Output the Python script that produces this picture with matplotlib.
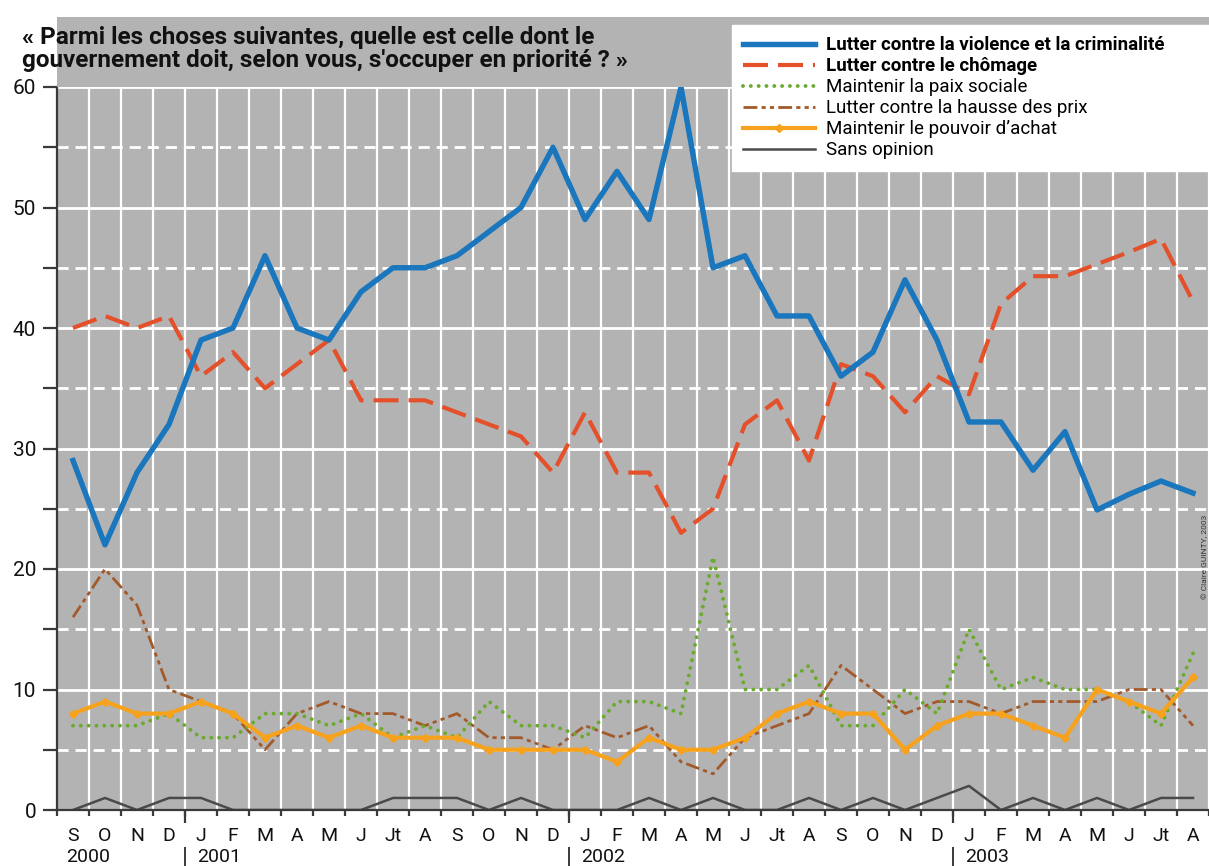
#!/usr/bin/env python
"""Priorités du gouvernement : line chart, Sept. 2000 - Aug. 2003."""

import matplotlib

matplotlib.use("Agg")
import matplotlib.pyplot as plt
from matplotlib.patches import Rectangle

plt.rcParams["font.family"] = ["Roboto", "DejaVu Sans"]

months = [
    "S", "O", "N", "D",
    "J", "F", "M", "A", "M", "J", "Jt", "A", "S", "O", "N", "D",
    "J", "F", "M", "A", "M", "J", "Jt", "A", "S", "O", "N", "D",
    "J", "F", "M", "A", "M", "J", "Jt", "A",
]
years = ["2000", "2001", "2002", "2003"]
year_starts = [0, 4, 16, 28]

violence = [29, 22, 28, 32, 39, 40, 46, 40, 39, 43, 45, 45, 46, 48, 50, 55,
            49, 53, 49, 60, 45, 46, 41, 41, 36, 38, 44, 39, 32.2, 32.2, 28.2, 31.4,
            24.9, 26.2, 27.3, 26.3]
chomage = [40, 41, 40, 41, 36, 38, 35, 37, 39, 34, 34, 34, 33, 32, 31, 28,
           33, 28, 28, 23, 25, 32, 34, 29, 37, 36, 33, 36, 34.5, 42, 44.3, 44.3,
           45.3, 46.3, 47.4, 42.2]
paix = [7, 7, 7, 8, 6, 6, 8, 8, 7, 8, 6, 7, 6, 9, 7, 7,
        6, 9, 9, 8, 21, 10, 10, 12, 7, 7, 10, 8, 15, 10, 11, 10,
        10, 9, 7, 13]
prix = [16, 20, 17, 10, 9, 8, 5, 8, 9, 8, 8, 7, 8, 6, 6, 5,
        7, 6, 7, 4, 3, 6, 7, 8, 12, 10, 8, 9, 9, 8, 9, 9,
        9, 10, 10, 7]
achat = [8, 9, 8, 8, 9, 8, 6, 7, 6, 7, 6, 6, 6, 5, 5, 5,
         5, 4, 6, 5, 5, 6, 8, 9, 8, 8, 5, 7, 8, 8, 7, 6,
         10, 9, 8, 11]
sans_opinion = [0, 1, 0, 1, 1, 0, 0, 0, 0, 0, 1, 1, 1, 0, 1, 0,
                0, 0, 1, 0, 1, 0, 0, 1, 0, 1, 0, 1, 2, 0, 1, 0,
                1, 0, 1, 1]

labels = [
    "Lutter contre la violence et la criminalité",
    "Lutter contre le chômage",
    "Maintenir la paix sociale",
    "Lutter contre la hausse des prix",
    "Maintenir le pouvoir d’achat",
    "Sans opinion",
]

GREY = "#b3b3b3"
DARK = "#3a3a3a"

fig = plt.figure(figsize=(12.09, 8.66), dpi=100)
fig.set_facecolor("white")

# grey band behind the title
fig.patches.append(
    Rectangle((57 / 1209, 1 - 87 / 866), 1, 70 / 866,
              transform=fig.transFigure, facecolor=GREY, edgecolor="none", zorder=0)
)

ax = fig.add_axes([57 / 1209, 56 / 866, 1 - 57 / 1209, (810 - 87) / 866])
ax.set_facecolor(GREY)
ax.set_axisbelow(True)

x = list(range(len(months)))
bounds = [i - 0.5 for i in range(len(months) + 1)]

ax.set_xlim(-0.5, 35.33)
ax.set_ylim(0, 60)

# grid
ax.set_yticks(range(0, 61, 10))
ax.set_yticks(range(5, 60, 10), minor=True)
ax.yaxis.grid(True, which="major", color="white", lw=2.0)
ax.yaxis.grid(True, which="minor", color="white", lw=2.0, dashes=(4, 2.5))
ax.vlines(bounds[1:], 0, 60, color="white", lw=1.6, zorder=0.5)

# series
ax.plot(x, sans_opinion, color="#4a4a4a", lw=1.8, zorder=3, label=labels[5])
ax.plot(x, prix, color="#a35a2b", lw=2.0, dashes=(5, 1.5, 1.5, 1.5, 1.5, 1.5),
        zorder=4, label=labels[3])
ax.plot(x, paix, color="#6aaa2c", lw=2.8, dashes=(0.01, 2.0),
        dash_capstyle="round", zorder=5, label=labels[2])
ax.plot(x, achat, color="#f7a21d", lw=3.0, marker="D", ms=4.5, zorder=6,
        label=labels[4])
ax.plot(x, chomage, color="#e4502a", lw=3.0, dashes=(6, 2.4), zorder=7,
        label=labels[1])
ax.plot(x, violence, color="#1a76bd", lw=3.9, zorder=8, label=labels[0])

# axes and ticks
for side in ("top", "right"):
    ax.spines[side].set_visible(False)
for side in ("left", "bottom"):
    ax.spines[side].set_color(DARK)
    ax.spines[side].set_linewidth(1.6)
    ax.spines[side].set_zorder(9)

ax.tick_params(axis="y", which="both", length=10, width=1.6, color=DARK,
               labelsize=15, pad=5, labelcolor="#111111")
ax.set_xticks(x)
ax.set_xticklabels(months)
ax.set_xticks(bounds, minor=True)
ax.tick_params(axis="x", which="major", length=0, pad=12, labelsize=14,
               labelcolor="#111111")
ax.tick_params(axis="x", which="minor", length=4.5, width=1.6, color=DARK)

year_bounds = [s - 0.5 for s in year_starts[1:]]
ax.vlines(year_bounds, -1.1, 0, color=DARK, lw=1.6, clip_on=False)
ax.text(-0.2, -3.9, years[0], fontsize=14, ha="left", va="center",
        color="#111111")
for b, yr in zip(year_bounds, years[1:]):
    ax.vlines(b, -3.1, -4.65, color=DARK, lw=1.4, clip_on=False)
    ax.text(b + 0.38, -3.9, yr, fontsize=14, ha="left", va="center",
            color="#111111")

# title
fig.text(22 / 1209, 1 - 26 / 866,
         "« Parmi les choses suivantes, quelle est celle dont le\n"
         "gouvernement doit, selon vous, s'occuper en priorité ? »",
         fontsize=17.5, fontweight="bold", va="top", ha="left",
         linespacing=0.98, color="#111111")

# legend
handles, labs = ax.get_legend_handles_labels()
order = [labs.index(l) for l in labels]
leg = fig.legend(
    [handles[i] for i in order], labels,
    loc="upper left", mode="expand",
    bbox_to_anchor=(732 / 1209, 1 - 25 / 866, 477 / 1209, 0.0),
    frameon=True, fancybox=False, framealpha=1, facecolor="white",
    edgecolor="white", fontsize=13.5, handlelength=3.8, handletextpad=0.6,
    labelspacing=0.16, borderpad=0.6, borderaxespad=0,
)
for t in leg.get_texts()[:2]:
    t.set_fontweight("bold")
leg.set_zorder(20)

fig.text(1205 / 1209, 1 - 557 / 866, "© Claire GUINTY, 2003", rotation=90,
         fontsize=6, ha="center", va="center", color="#333333")

fig.savefig("out.png", dpi=100)
